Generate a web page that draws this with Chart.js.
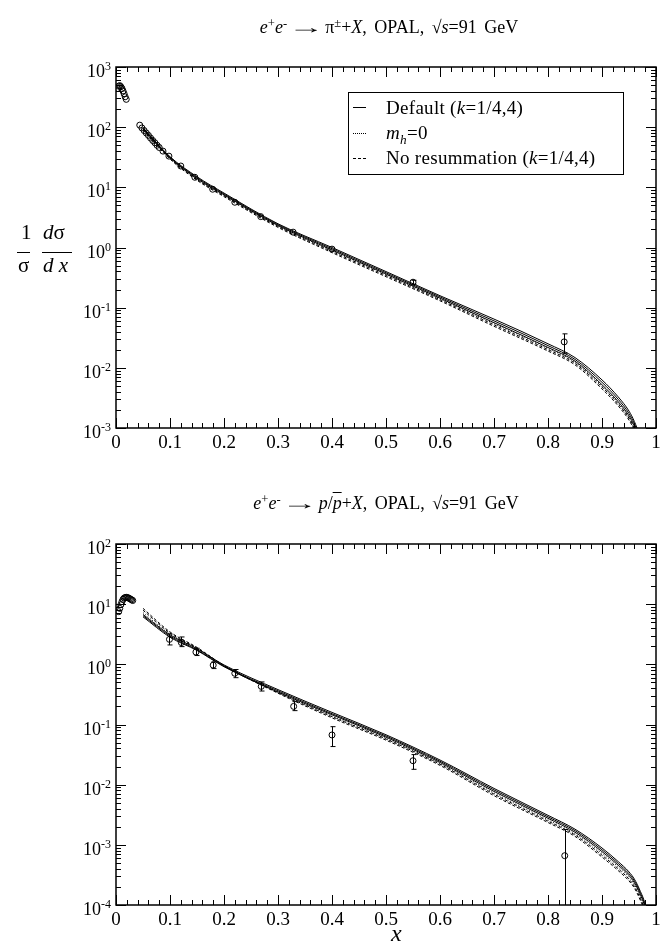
<!DOCTYPE html>
<html>
<head>
<meta charset="utf-8">
<script src="https://cdn.jsdelivr.net/npm/chart.js@4/dist/chart.umd.min.js"></script>
<style>
  body { margin: 0; background: #fff; width: 661px; height: 950px; position: relative; overflow: hidden;
         font-family: "Liberation Serif", "DejaVu Serif", serif; color: #000; }
  canvas { position: absolute; left: 0; }
  #top { top: 0; }
  #bottom { top: 475px; }
  .t { position: absolute; white-space: nowrap; }
  sup { font-size: 70%; vertical-align: 0.5em; line-height: 0; }
  sub { font-size: 70%; vertical-align: -0.35em; line-height: 0; }
  .title { font-size: 18px; line-height: 18px; transform: translateX(-50%); word-spacing: 3px; }
  .arr { display: inline-block; transform: scaleX(2); margin: 0 10px; }
  .leg { font-size: 19px; line-height: 19px; letter-spacing: 0.3px; }
  .ylab { font-size: 21px; line-height: 21px; }
  .bar { position: absolute; height: 1px; background: #000; }
  .sample { position: absolute; width: 13px; height: 0; }
</style>
</head>
<body>
<canvas id="top" width="661" height="475"></canvas>
<canvas id="bottom" width="661" height="475"></canvas>

<!-- titles -->
<div class="t title" style="left:389px;top:18px"><i>e</i><sup>+</sup><i>e</i><sup>-</sup><span class="arr">&rarr;</span>&pi;<sup>&plusmn;</sup>+<i>X</i>, OPAL, &radic;<i>s</i>=91 GeV</div>
<div class="t title" style="left:386px;top:494px"><i>e</i><sup>+</sup><i>e</i><sup>-</sup><span class="arr">&rarr;</span><i>p</i>/<i style="text-decoration:overline">p</i>+<i>X</i>, OPAL, &radic;<i>s</i>=91 GeV</div>

<!-- legend (top panel) -->
<div style="position:absolute;left:348px;top:92px;width:274px;height:81px;border:1px solid #000"></div>
<div class="sample" style="left:353px;top:107px;border-top:1px solid #000"></div>
<div class="sample" style="left:353px;top:133px;border-top:1px dotted #000"></div>
<div class="sample" style="left:353px;top:158px;border-top:1px dashed #000"></div>
<div class="t leg" style="left:386px;top:98px">Default (<i>k</i>=1/4,4)</div>
<div class="t leg" style="left:386px;top:123px"><i>m<sub>h</sub></i>=0</div>
<div class="t leg" style="left:386px;top:148px">No resummation (<i>k</i>=1/4,4)</div>

<!-- y axis title -->
<div class="t ylab" style="left:21px;top:222px">1</div>
<div class="bar" style="left:17px;top:252px;width:13px"></div>
<div class="t ylab" style="left:18px;top:255px">&sigma;</div>
<div class="t ylab" style="left:43px;top:222px"><i>d</i>&sigma;</div>
<div class="bar" style="left:42px;top:252px;width:30px"></div>
<div class="t ylab" style="left:43px;top:255px"><i>d x</i></div>

<!-- x axis title -->
<div class="t" style="left:391px;top:921px;font-size:24px;line-height:24px"><i>x</i></div>

<script>
// ---- axes ----
const xTickValues = [0, 0.1, 0.2, 0.3, 0.4, 0.5, 0.6, 0.7, 0.8, 0.9, 1];
const xTickLabels = ['0', '0.1', '0.2', '0.3', '0.4', '0.5', '0.6', '0.7', '0.8', '0.9', '1'];
const piYTicks = [1e-3, 1e-2, 1e-1, 1, 10, 100, 1000];
const piYExps = ['-3', '-2', '-1', '0', '1', '2', '3'];
const pYTicks = [1e-4, 1e-3, 1e-2, 1e-1, 1, 10, 100];
const pYExps = ['-4', '-3', '-2', '-1', '0', '1', '2'];

// ---- theory curves (shared x grid) ----
const curveX = [0.05, 0.1, 0.15, 0.2, 0.3, 0.4, 0.5, 0.6, 0.7, 0.8, 0.85, 0.9, 0.93, 0.95, 0.96, 0.97, 0.98, 0.99];

// pi+- panel
const piDefHi  = [97.7, 32.3, 15.0, 8.03, 2.48, 1.0, 0.398, 0.158, 0.0646, 0.0251, 0.0148, 0.0063, 0.00329, 0.00191, 0.00128, 0.00072, 0.00027, 0.000069];
const piDefMid = [95.5, 31.6, 14.5, 7.76, 2.40, 0.955, 0.380, 0.151, 0.0603, 0.0234, 0.0138, 0.00575, 0.0030, 0.00174, 0.00117, 0.00066, 0.00025, 0.000063];
const piDefLo  = [93.3, 30.9, 14.0, 7.50, 2.32, 0.912, 0.363, 0.144, 0.0563, 0.0218, 0.0129, 0.00524, 0.00274, 0.00159, 0.00107, 0.0006, 0.00023, 0.000057];
const piMh0    = [93.3, 30.9, 13.8, 7.41, 2.29, 0.891, 0.355, 0.141, 0.0544, 0.0211, 0.0124, 0.00501, 0.00261, 0.00152, 0.00102, 0.00057, 0.00022, 0.000055];
const piNoResA = [91.2, 30.2, 13.5, 7.24, 2.24, 0.861, 0.343, 0.136, 0.0519, 0.0201, 0.0119, 0.00478, 0.0025, 0.00145, 0.00097, 0.00055, 0.00021, 0.000052];
const piNoResB = [89.1, 29.5, 13.1, 7.0, 2.16, 0.822, 0.327, 0.130, 0.049, 0.019, 0.0112, 0.00446, 0.00233, 0.00135, 0.00091, 0.00051, 0.00019, 0.000049];

// p/pbar panel
const pDefHi  = [6.75, 3.09, 1.82, 0.977, 0.380, 0.159, 0.0675, 0.0257, 0.00866, 0.00309, 0.00182, 0.000886, 0.000527, 0.000355, 0.000269, 0.000177, 0.0001, 0.000028];
const pDefMid = [6.45, 2.95, 1.74, 0.933, 0.363, 0.151, 0.0644, 0.0245, 0.00818, 0.00292, 0.00172, 0.000827, 0.000492, 0.000331, 0.000251, 0.000165, 0.000093, 0.000026];
const pDefLo  = [6.16, 2.82, 1.70, 0.912, 0.347, 0.145, 0.0616, 0.0234, 0.00772, 0.00276, 0.00162, 0.000772, 0.000459, 0.000309, 0.000234, 0.000154, 0.000087, 0.000024];
const pMh0    = [7.24, 3.16, 1.82, 0.933, 0.347, 0.138, 0.0588, 0.0224, 0.00729, 0.0026, 0.00153, 0.00072, 0.000429, 0.000288, 0.000219, 0.000144, 0.000081, 0.000023];
const pNoResA = [7.94, 3.31, 1.86, 0.955, 0.339, 0.135, 0.0575, 0.0219, 0.00696, 0.00248, 0.00146, 0.000672, 0.0004, 0.000269, 0.000204, 0.000134, 0.000076, 0.000021];
const pNoResB = [8.51, 3.46, 1.91, 0.955, 0.331, 0.129, 0.0549, 0.0209, 0.00657, 0.00235, 0.00138, 0.000627, 0.000373, 0.000251, 0.000191, 0.000125, 0.000071, 0.00002];

// ---- OPAL data ----
const piLowX = [0.003, 0.005, 0.007, 0.009, 0.011, 0.013, 0.015, 0.017, 0.019];
const piLowY = [440, 480, 490, 470, 440, 400, 360, 320, 290];
const piMidX = [0.044, 0.048, 0.052, 0.056, 0.060, 0.064, 0.068, 0.072, 0.076, 0.080, 0.087, 0.098];
const piMidY = [108, 97, 88, 80, 73, 66, 60, 55, 50, 46, 40, 33];
const piX = [0.12, 0.146, 0.179, 0.22, 0.268, 0.328, 0.40, 0.55, 0.83];
const piY = [22.6, 14.7, 9.3, 5.65, 3.26, 1.8, 0.94, 0.265, 0.027];
const piErrLow  = [22.6, 14.7, 9.3, 5.65, 3.26, 1.8, 0.94, 0.245, 0.0175];
const piErrHigh = [22.6, 14.7, 9.3, 5.65, 3.26, 1.8, 0.94, 0.285, 0.0367];

const pLowX = [0.005, 0.007, 0.009, 0.011, 0.013, 0.015, 0.017, 0.019, 0.021, 0.023, 0.025, 0.027, 0.029, 0.031];
const pLowY = [7.5, 8.5, 9.8, 11, 12, 12.6, 12.9, 13, 12.9, 12.7, 12.4, 12.1, 11.8, 11.5];
const pX = [0.099, 0.121, 0.148, 0.18, 0.22, 0.269, 0.329, 0.40, 0.55, 0.831];
const pY = [2.6, 2.3, 1.6, 0.97, 0.71, 0.43, 0.2, 0.067, 0.025, 0.00066];
const pErrLow  = [2.1, 1.97, 1.4, 0.85, 0.6, 0.36, 0.17, 0.043, 0.018, 0.00001];
const pErrHigh = [3.2, 2.85, 1.85, 1.1, 0.82, 0.51, 0.24, 0.092, 0.0316, 0.0018];

// helpers
function pts(xs, ys) {
  return xs.map((x, i) => ({ x: x, y: ys[i] }));
}
function curve(ys, dash) {
  return {
    data: pts(curveX, ys), showLine: true, pointRadius: 0, borderColor: '#000',
    borderWidth: 1, borderDash: dash, cubicInterpolationMode: 'monotone'
  };
}
function marks(xs, ys) {
  return {
    data: pts(xs, ys), showLine: false, pointRadius: 3, pointStyle: 'circle',
    borderColor: '#000', backgroundColor: 'rgba(0,0,0,0)', borderWidth: 1
  };
}

// frame, inward ticks, tick labels and error bars
const framePlugin = {
  id: 'frame',
  afterDatasetsDraw(chart, args, opts) {
    const ctx = chart.ctx, a = chart.chartArea, x = chart.scales.x, y = chart.scales.y;
    ctx.save();
    ctx.strokeStyle = '#000';
    ctx.lineWidth = 1;
    const line = (x1, y1, x2, y2) => { ctx.beginPath(); ctx.moveTo(x1, y1); ctx.lineTo(x2, y2); ctx.stroke(); };

    // error bars
    ctx.save();
    ctx.beginPath(); ctx.rect(a.left, a.top, a.width, a.height); ctx.clip();
    opts.errX.forEach((v, i) => {
      if (opts.errLo[i] === opts.errHi[i]) return;
      const px = Math.round(x.getPixelForValue(v)) + 0.5;
      const yl = y.getPixelForValue(opts.errLo[i]), yh = y.getPixelForValue(opts.errHi[i]);
      line(px, yl, px, yh);
      line(px - 2, yh, px + 3, yh);
      line(px - 2, yl, px + 3, yl);
    });
    ctx.restore();

    // x ticks: major every 0.1, minor every 0.02
    for (let i = 0; i <= 50; i++) {
      const px = Math.round(x.getPixelForValue(i / 50)) + 0.5;
      const len = i % 5 === 0 ? 10 : 5;
      line(px, a.bottom, px, a.bottom - len);
      line(px, a.top, px, a.top + len);
    }
    // y ticks: decades and 2..9 minors
    opts.yTicks.forEach((d, k) => {
      const py = Math.round(y.getPixelForValue(d)) + 0.5;
      line(a.left, py, a.left + 10, py);
      line(a.right, py, a.right - 10, py);
      if (k < opts.yTicks.length - 1) {
        for (let m = 2; m <= 9; m++) {
          const pm = Math.round(y.getPixelForValue(d * m)) + 0.5;
          line(a.left, pm, a.left + 5, pm);
          line(a.right, pm, a.right - 5, pm);
        }
      }
    });
    ctx.lineWidth = 1.5;
    ctx.strokeRect(a.left, a.top, a.width, a.height);

    // labels
    ctx.fillStyle = '#000';
    ctx.textBaseline = 'alphabetic';
    ctx.font = '19px "Liberation Serif", serif';
    ctx.textAlign = 'center';
    xTickValues.forEach((v, i) => {
      ctx.fillText(xTickLabels[i], x.getPixelForValue(v), a.bottom + 20);
    });
    ctx.textAlign = 'right';
    opts.yTicks.forEach((d, k) => {
      const py = y.getPixelForValue(d);
      ctx.font = '12px "Liberation Serif", serif';
      const we = ctx.measureText(opts.yExps[k]).width;
      ctx.fillText(opts.yExps[k], a.left - 5, py + 3);
      ctx.font = '18px "Liberation Serif", serif';
      ctx.fillText('10', a.left - 5 - we, py + 10);
    });
    ctx.restore();
  }
};

function makeChart(id, datasets, yMin, yMax, padTop, padBottom, frameOpts) {
  return new Chart(document.getElementById(id), {
    type: 'scatter',
    data: { datasets: datasets },
    options: {
      responsive: false,
      animation: false,
      devicePixelRatio: 1,
      layout: { padding: { left: 116, right: 4, top: padTop, bottom: padBottom } },
      plugins: { legend: { display: false }, tooltip: { enabled: false }, frame: frameOpts },
      scales: {
        x: { type: 'linear', min: 0, max: 1, display: false },
        y: { type: 'logarithmic', min: yMin, max: yMax, display: false }
      }
    },
    plugins: [framePlugin]
  });
}

const solid = [], dotted = [1, 2], dashed = [3, 2];

makeChart('top', [
  curve(piDefHi, solid), curve(piDefMid, solid), curve(piDefLo, solid),
  curve(piMh0, dotted), curve(piNoResA, dashed), curve(piNoResB, dashed),
  marks(piLowX, piLowY), marks(piMidX, piMidY), marks(piX, piY)
], 1e-3, 1e3, 67, 47, { yTicks: piYTicks, yExps: piYExps, errX: piX, errLo: piErrLow, errHi: piErrHigh });

makeChart('bottom', [
  curve(pDefHi, solid), curve(pDefMid, solid), curve(pDefLo, solid),
  curve(pMh0, dotted), curve(pNoResA, dashed), curve(pNoResB, dashed),
  marks(pLowX, pLowY), marks(pX, pY)
], 1e-4, 1e2, 69, 45, { yTicks: pYTicks, yExps: pYExps, errX: pX, errLo: pErrLow, errHi: pErrHigh });
</script>
</body>
</html>
